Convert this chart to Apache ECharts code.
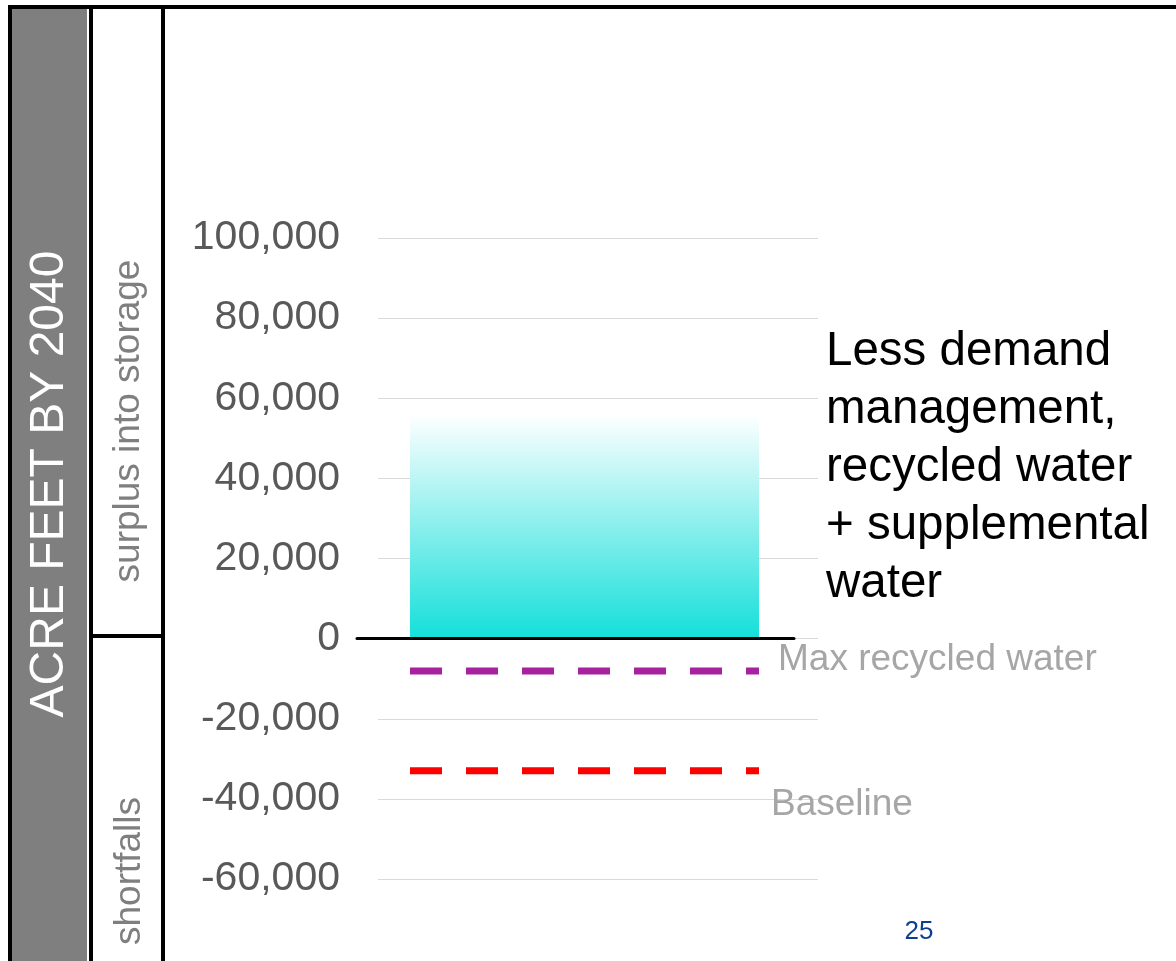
<!DOCTYPE html>
<html>
<head>
<meta charset="utf-8">
<title>Acre feet by 2040</title>
<script src="https://cdn.jsdelivr.net/npm/echarts@6/dist/echarts.min.js"></script>
<style>
  html, body { margin: 0; padding: 0; background: #ffffff; }
  #chart { width: 1176px; height: 961px; }
</style>
</head>
<body>
<div id="chart"></div>
<script>
// Scenario shown as the bar
const categories = ['Less demand management, recycled water + supplemental water'];
// Surplus into storage (acre feet by 2040)
const surplusValues = [56000];
// Reference shortfall levels (acre feet)
const referenceNames = ['Max recycled water', 'Baseline'];
const referenceLevels = [-8100, -33000];
// Value axis ticks
const yMin = -60000;
const yMax = 100000;
const yStep = 20000;

const FONT = '"Liberation Sans", Arial, Helvetica, sans-serif';
const chart = echarts.init(document.getElementById('chart'), null, { renderer: 'canvas' });

const plotTop = 238;
const plotHeight = 641;

function hiddenY(gridIndex) {
  return {
    type: 'value', gridIndex: gridIndex, min: yMin, max: yMax, interval: yStep,
    show: false, splitLine: { show: false }
  };
}

// dashed reference lines, labelled at their right end
const refStyles = [
  { color: '#a6229f', label: { offset: [19, -11] } },
  { color: '#ff0000', label: { offset: [12, 34] } }
];
const refSeries = referenceLevels.map(function (level, i) {
  return {
    name: referenceNames[i],
    type: 'line',
    xAxisIndex: 2,
    yAxisIndex: 1,
    data: [[0, level], [1, level]],
    symbol: 'none',
    silent: true,
    z: 5,
    lineStyle: { color: refStyles[i].color, width: 7, type: [32, 24], cap: 'butt' },
    endLabel: {
      show: true,
      formatter: '{a}',
      distance: 0,
      offset: refStyles[i].label.offset,
      color: '#a6a6a6',
      fontSize: 37,
      fontFamily: FONT
    }
  };
});

const option = {
  animation: false,
  backgroundColor: '#ffffff',
  grid: [
    // gridlines and tick labels
    { left: 378, top: plotTop, width: 440, height: plotHeight },
    // bar and reference lines
    { left: 410, top: plotTop, width: 349, height: plotHeight },
    // zero baseline
    { left: 357, top: plotTop, width: 437, height: plotHeight }
  ],
  xAxis: [
    { type: 'category', gridIndex: 0, data: categories, show: false },
    { type: 'category', gridIndex: 1, data: categories, show: false },
    { type: 'value', gridIndex: 1, min: 0, max: 1, show: false, splitLine: { show: false } },
    {
      type: 'category', gridIndex: 2, data: categories, z: 10,
      axisLine: { show: true, onZero: true, lineStyle: { color: '#000000', width: 3 } },
      axisTick: { show: false },
      axisLabel: { show: false },
      splitLine: { show: false }
    }
  ],
  yAxis: [
    {
      type: 'value', gridIndex: 0, min: yMin, max: yMax, interval: yStep,
      axisLine: { show: false },
      axisTick: { show: false },
      axisLabel: { color: '#595959', fontSize: 41, fontFamily: FONT, margin: 38 },
      splitLine: { show: true, lineStyle: { color: '#d9d9d9', width: 1 } }
    },
    hiddenY(1),
    hiddenY(2)
  ],
  series: [
    {
      name: 'Surplus into storage',
      type: 'bar',
      xAxisIndex: 1,
      yAxisIndex: 1,
      data: surplusValues,
      barWidth: '100%',
      silent: true,
      itemStyle: {
        color: {
          type: 'linear', x: 0, y: 0, x2: 0, y2: 1,
          colorStops: [
            { offset: 0, color: '#ffffff' },
            { offset: 1, color: '#14dfda' }
          ]
        }
      }
    }
  ].concat(refSeries),
  graphic: [
    // frame and side panels
    { type: 'rect', shape: { x: 8, y: 5, width: 1168, height: 4 }, style: { fill: '#000000' }, silent: true },
    { type: 'rect', shape: { x: 8, y: 5, width: 4, height: 956 }, style: { fill: '#000000' }, silent: true },
    { type: 'rect', shape: { x: 12, y: 9, width: 75, height: 952 }, style: { fill: '#7f7f7f' }, silent: true },
    { type: 'rect', shape: { x: 89, y: 5, width: 4, height: 956 }, style: { fill: '#000000' }, silent: true },
    { type: 'rect', shape: { x: 161, y: 5, width: 4, height: 956 }, style: { fill: '#000000' }, silent: true },
    { type: 'rect', shape: { x: 93, y: 634, width: 68, height: 4 }, style: { fill: '#000000' }, silent: true },
    {
      type: 'text', x: 50, y: 484, rotation: Math.PI / 2, silent: true,
      style: { text: 'ACRE FEET BY 2040', fill: '#ffffff', fontSize: 48, fontFamily: FONT, align: 'center', verticalAlign: 'middle' }
    },
    {
      type: 'text', x: 129, y: 421, rotation: Math.PI / 2, silent: true,
      style: { text: 'surplus into storage', fill: '#7f7f7f', fontSize: 37, fontFamily: FONT, align: 'center', verticalAlign: 'middle' }
    },
    {
      type: 'text', x: 130, y: 871, rotation: Math.PI / 2, silent: true,
      style: { text: 'shortfalls', fill: '#7f7f7f', fontSize: 37, fontFamily: FONT, align: 'center', verticalAlign: 'middle' }
    },
    {
      type: 'text', x: 826, y: 323, silent: true,
      style: {
        text: 'Less demand\nmanagement,\nrecycled water\n+ supplemental\nwater',
        fill: '#000000', fontSize: 47.5, lineHeight: 58, fontFamily: FONT, align: 'left', verticalAlign: 'top'
      }
    },
    {
      type: 'text', x: 919, y: 932, silent: true,
      style: { text: '25', fill: '#0e3f8f', fontSize: 26, fontFamily: FONT, align: 'center', verticalAlign: 'middle' }
    }
  ]
};

chart.setOption(option);
</script>
</body>
</html>
